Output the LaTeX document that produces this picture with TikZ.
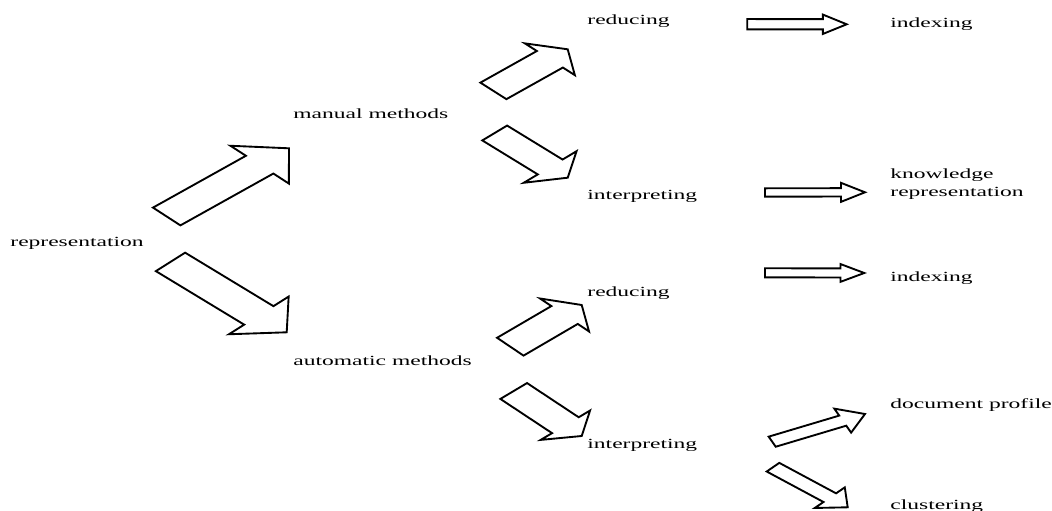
\documentclass[tikz,border=0pt]{standalone}
\usepackage{fontspec}
\setmainfont{Liberation Serif}
\usetikzlibrary{calc}

% outlined block arrow: #1 name, #2 tail middle, #3 tip,
% #4 half width of the head, #5 shaft width as a share of the head
\newcommand{\blockarrow}[5]{%
  \coordinate (#1-tail) at #2;
  \coordinate (#1-tip) at #3;
  \coordinate (#1-base) at ($(#1-tail)!0.76!(#1-tip)$);
  \draw[arrowshape] ($(#1-tail)+#5*#4$) -- ($(#1-base)+#5*#4$) -- ($(#1-base)+#4$)
    -- (#1-tip) -- ($(#1-base)-#4$) -- ($(#1-base)-#5*#4$) -- ($(#1-tail)-#5*#4$) -- cycle;
}

\begin{document}
\begin{tikzpicture}[
    x=0.8pt, y=-0.8pt,    % one unit per pixel, y running down
    term/.style={anchor=base west, inner sep=0pt, xscale=1.68,
                 font=\fontsize{11.2}{14.7}\selectfont, align=left},
    arrowshape/.style={draw=black, line width=1.5pt, line join=miter, fill=white}
]
\useasboundingbox (0,0) rectangle (1052,511);

% terms
\node[term] (rep) at (10,246.5) {representation};
\node[term] (manual) at (293,119) {manual methods};
\node[term] (automatic) at (293,365.7) {automatic methods};
\node[term] (mreduce) at (587,25) {reducing};
\node[term] (minterp) at (587,200) {interpreting};
\node[term] (areduce) at (587,296.7) {reducing};
\node[term] (ainterp) at (587,448.3) {interpreting};
\node[term] (mindex) at (890,28) {indexing};
\node[term] (mknow) at (890,197) {knowledge\\representation}; % base = last line
\node[term] (aindex) at (890,282) {indexing};
\node[term] (aprofile) at (890,408.5) {document profile};
\node[term] (acluster) at (890,509) {clustering};

% first split
\blockarrow{rep-manual}{(166.7,216.5)}{(289,148.3)}{(29.2,18.9)}{0.47}
\blockarrow{rep-auto}{(170.5,261.9)}{(286.7,332.3)}{(29.85,-18.85)}{0.49}

% second split
\blockarrow{manual-reduce}{(493.4,90.9)}{(567.7,49.3)}{(25,15.9)}{0.52}
\blockarrow{manual-interp}{(494.7,133)}{(567.7,177.7)}{(26.4,-15.8)}{0.47}
\blockarrow{auto-reduce}{(510.3,346.7)}{(581.7,305)}{(24.5,16.5)}{0.54}
\blockarrow{auto-interp}{(513.7,391)}{(581.7,436)}{(24.7,-14.7)}{0.54}

% results
\blockarrow{mreduce-index}{(747.3,24.2)}{(846.7,24.3)}{(0,9.7)}{0.53}
\blockarrow{minterp-know}{(765,192.5)}{(865,192.3)}{(0,9.5)}{0.44}
\blockarrow{areduce-index}{(765,272.8)}{(864.3,273)}{(0,8.9)}{0.51}
\blockarrow{ainterp-profile}{(772.2,441.7)}{(865,414)}{(8.4,12)}{0.42}
\blockarrow{ainterp-cluster}{(773,467.2)}{(847.7,507.3)}{(15,-10.3)}{0.42}

\end{tikzpicture}
\end{document}
